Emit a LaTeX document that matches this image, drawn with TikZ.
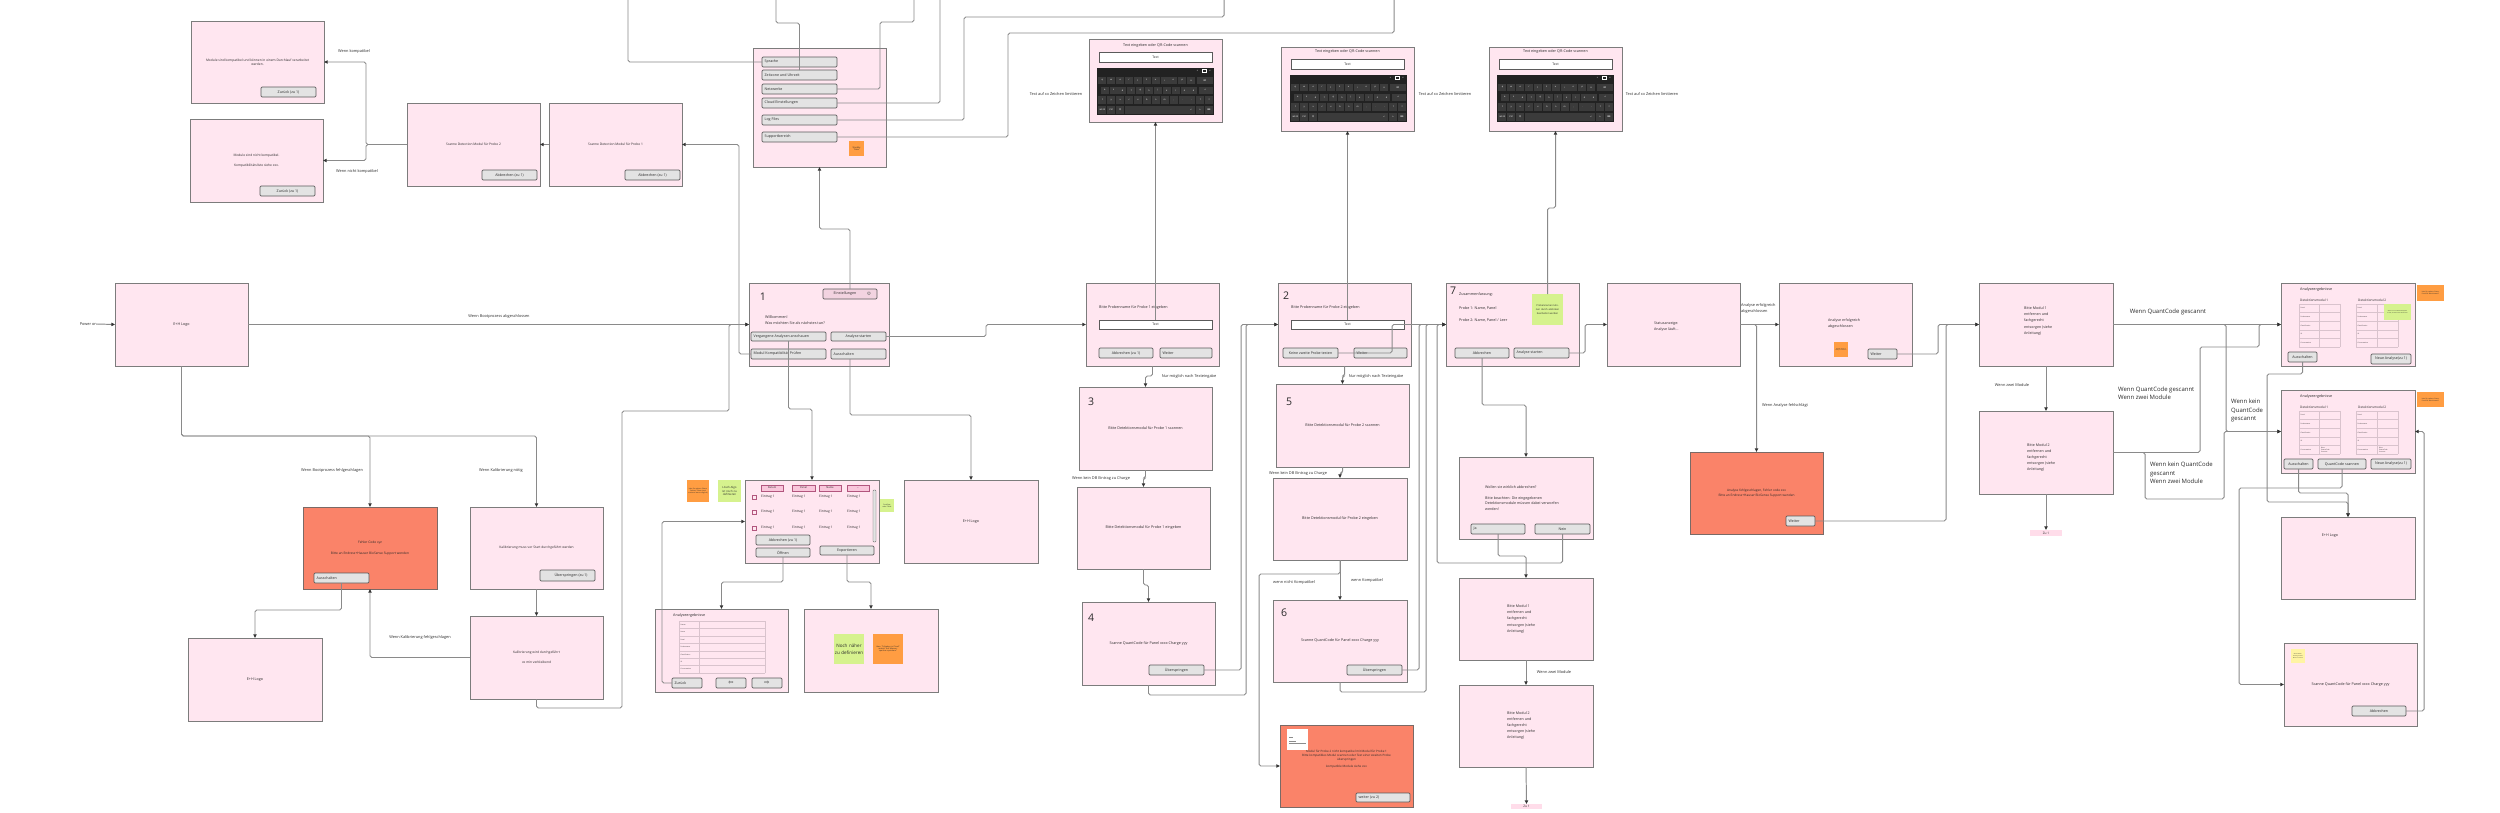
\documentclass[tikz,border=0pt]{standalone}
\usepackage{fontspec}
\setmainfont{Open Sans}
\newfontfamily\dejavu{DejaVu Sans}
\usetikzlibrary{arrows.meta,calc}
\definecolor{pinkbg}{HTML}{FFE6F0}
\definecolor{bord}{HTML}{7C7C7C}
\definecolor{salmon}{HTML}{FA8369}
\definecolor{errbord}{HTML}{7A6A66}
\definecolor{btnc}{HTML}{E3E3E3}
\definecolor{btnbord}{HTML}{5A5A5A}
\definecolor{hbtnc}{HTML}{F2D3E0}
\definecolor{hdrpink}{HTML}{F9C6DB}
\definecolor{hdrbord}{HTML}{B2567E}
\definecolor{orng}{HTML}{FF9D42}
\definecolor{lime}{HTML}{D6F28E}
\definecolor{yel}{HTML}{FFF4A3}
\definecolor{kbdc}{HTML}{222222}
\definecolor{keyc}{HTML}{3B3B3B}
\definecolor{lne}{HTML}{8A8A8A}
\definecolor{txtc}{HTML}{2A2A2A}
\definecolor{tblc}{HTML}{D9C3CD}
\definecolor{zupink}{HTML}{FFDDEA}
\newcommand\fsz[2]{\fontsize{#1}{#2}\selectfont}
\newcommand\rbox[7]{\node[#6,anchor=north west,minimum width={(#4-#2)*0.04cm},minimum height={(#5-#3)*0.04cm}] (#1) at (#2,#3) {#7};}
\newcommand\btn[6]{\rbox{#1}{#2}{#3}{#4}{#5}{btnst}{#6}}
\newcommand\btnl[6]{\rbox{#1}{#2}{#3}{#4}{#5}{btnst}{}\node[btxt,anchor=west] at ($(#1.west)+(2.5,0)$) {#6};}
\newcommand\sticky[9]{\node[anchor=north west,fill=#6,inner sep=0pt,outer sep=0pt,minimum width={(#4-#2)*0.04cm},minimum height={(#5-#3)*0.04cm},text width={(#4-#2)*0.04cm-1.2pt},align=center,font=\fsz{#7}{#8},text=txtc] (#1) at (#2,#3) {#9};}
\newcommand\tbl[7]{%
  \pgfmathsetmacro\rowh{(#5-#2)/#6}%
  \foreach \rr in {0,...,#6} {\draw[tblline] (#1,{#2+\rowh*\rr}) -- (#3,{#2+\rowh*\rr});}
  \draw[tblline] (#1,#2) -- (#1,#5) (#4,#2) -- (#4,#5) (#3,#2) -- (#3,#5);
  \foreach \lab [count=\rr] in {#7} {\node[tiny,anchor=west] at ({#1+1.5},{#2+\rowh*(\rr-0.5)}) {\lab};}
}
\newcommand\resin[3]{\begin{scope}[shift={(#1,#2)}]
  \node[txt,anchor=west,font=\fsz{4.2}{5}] at (19,7) {Analyseergebnisse};
  \node[txt,anchor=west,font=\fsz{3.6}{4}] at (19,17) {Detektionsmodul 1};
  \node[txt,anchor=west,font=\fsz{3.6}{4}] at (77,17) {Detektionsmodul 2};
  \tbl{18}{21}{59}{38}{64}{5}{Panel,Probenname,Classification,ID,Concentration}
  \tbl{75}{21}{117}{96}{64}{5}{Panel,Probenname,Classification,ID,Concentration}
  #3
\end{scope}}
\tikzset{
 scr/.style={draw=bord,fill=pinkbg,line width=1.1pt,inner sep=0pt,outer sep=0pt,align=center,font=\fsz{4.2}{5.2},text=txtc},
 errscr/.style={scr,fill=salmon,draw=errbord},
 btnst/.style={draw=btnbord,fill=btnc,rounded corners=1.3pt,line width=0.8pt,inner sep=0pt,outer sep=0pt,font=\fsz{4.1}{4.5},text=txtc},
 hbtn/.style={btnst,fill=hbtnc},
 btxt/.style={inner sep=0pt,font=\fsz{4.1}{4.5},text=txtc},
 fieldst/.style={draw=btnbord,fill=white,line width=0.8pt,inner sep=0pt,outer sep=0pt,font=\fsz{3.8}{4},text=txtc},
 txt/.style={inner sep=0pt,font=\fsz{4.2}{5.2},text=txtc,align=left},
 lbl/.style={inner sep=0pt,font=\fsz{4.4}{5.4},text=txtc,align=left},
 biglbl/.style={inner sep=0pt,font=\fsz{6.8}{9.6},text=txtc,align=left},
 num/.style={inner sep=0pt,font=\fsz{12}{12},text=txtc},
 tiny/.style={inner sep=0pt,font=\fsz{1.8}{2.1},text=txtc},
 tblline/.style={draw=tblc,line width=0.35pt},
 hdr/.style={draw=hdrbord,fill=hdrpink,line width=0.7pt,inner sep=0pt,outer sep=0pt,font=\fsz{3}{3.2},text=txtc},
 zul/.style={fill=zupink,inner sep=0pt,outer sep=0pt,font=\fsz{3.6}{4},text=txtc},
 conn/.style={draw=lne,line width=1.1pt,rounded corners=2pt,-{Triangle[length=4.2pt,width=3.8pt,color=black!80]}},
 plainln/.style={draw=lne,line width=1.1pt,rounded corners=2pt},
 kl/.style={inner sep=0pt,font=\dejavu\fsz{2.4}{2.6},text=white},
 kbdpic/.pic={
  \fill[kbdc] (0,0) rectangle (117,47);
  \node[kl] at (100.5,2.8) {+};
  \draw[white,line width=0.25pt] (105.3,1.6) rectangle (108.7,4.0);
  \node[kl] at (113,2.8) {×};
  \foreach \kk [count=\ii from 0] in {q,w,e,r,t,z,u,i,o,p,ü}
    {\fill[keyc] ({1.4+8.87*\ii},8.5) rectangle ++(8,7.6);
     \node[kl] at ({5.4+8.87*\ii},12.3) {\kk};}
  \fill[keyc] (99.5,8.5) rectangle (116,16.1);
  \node[kl] at (107.7,12.3) {⌫};
  \foreach \kk [count=\ii from 0] in {a,s,d,f,g,h,j,k,l,ö,ä}
    {\fill[keyc] ({3.7+8.87*\ii},18.5) rectangle ++(8,7.6);
     \node[kl] at ({7.7+8.87*\ii},22.3) {\kk};}
  \fill[keyc] (101.5,18.5) rectangle (116,26.1);
  \node[kl] at (108.4,22.3) {↵};
  \foreach \kk [count=\ii from 0] in {⇧,y,x,c,v,b,n,m,{,},.,-,?,⇧}
    {\fill[keyc] ({1.4+8.9*\ii},28.2) rectangle ++(8,7.6);
     \node[kl] at ({5.4+8.9*\ii},32) {\kk};}
  \foreach \kk/\xx in {\&123/5.4,Ctrl/14.3,☺/23.1,</94.1,>/103,⌨/111.9}
    {\fill[keyc] ({\xx-4},38.2) rectangle ++(8,7.6);
     \node[kl] at (\xx,42) {\kk};}
  \fill[keyc] (28,38.2) rectangle (89.5,45.8);
 }
}
\begin{document}
\begin{tikzpicture}[x=0.04cm,y=-0.04cm]
\fill[white] (0,0) rectangle (2500,812);
\useasboundingbox (0,0) rectangle (2500,812);

% ---------- compatibility branch ----------
\rbox{compOK}{191}{21}{324}{103}{scr,font=\fsz{3.7}{4.6}}{Module sind kompatibel und können in einem Durchlauf verarbeitet\\werden.}
\btn{compOKb}{261}{87}{316}{97}{Zurück (zu 1)}
\rbox{compNO}{190}{119}{323}{202}{scr,font=\fsz{3.7}{4.6}}{Module sind nicht kompatibel.\\[7.5pt]Kompatibilitätsliste siehe xxx.}
\btn{compNOb}{260}{186}{315}{196}{Zurück (zu 1)}
\rbox{p2scan}{407}{103}{540}{186}{scr,font=\fsz{3.7}{4.6}}{Scanne Detection Modul für Probe 2}
\btn{p2b}{482}{170}{537}{180}{Abbrechen (zu 1)}
\rbox{p1scan}{549}{103}{682}{186}{scr,font=\fsz{3.7}{4.6}}{Scanne Detection Modul für Probe 1}
\btn{p1b}{625}{170}{680}{180}{Abbrechen (zu 1)}
\node[lbl] at (354,51) {Wenn kompatibel};
\node[lbl] at (357,171) {Wenn nicht kompatibel};

% ---------- settings ----------
\rbox{settings}{753}{48}{886}{167}{scr}{}
\btnl{spr}{762}{57}{837}{67}{Sprache}
\btnl{zeit}{762}{70}{837}{80}{Zeitzone und Uhrzeit}
\btnl{netz}{762}{84}{837}{94}{Netzwerke}
\btnl{cloud}{762}{98}{837}{108}{Cloud Einstellungen}
\btnl{logf}{762}{115}{837}{125}{Log Files}
\btnl{supp}{762}{132}{837}{142}{Supportbereich}
\sticky{standby}{849}{141}{864}{156}{orng}{2.4}{2.8}{Standby Timer}

% ---------- start ----------
\rbox{logo1}{115}{283}{248}{366}{scr}{E+H Logo}
\node[lbl,anchor=east] (pwr) at (97,324) {Power on};
\node[lbl] at (499,316) {Wenn Bootprozess abgeschlossen};
\node[lbl] at (332,470) {Wenn Bootprozess fehlgeschlagen};
\node[lbl] at (501,470) {Wenn Kalibrierung nötig};
\node[lbl] at (420,637) {Wenn Kalibrierung fehlgeschlagen};

% ---------- main menu 1 ----------
\rbox{menu1}{749}{283}{889}{366}{scr}{}
\node[num] at (763,297) {1};
\rbox{einst}{823}{289}{877}{299}{hbtn}{}
\node[btxt] at (845,294) {Einstellungen};
\node[inner sep=0pt,font=\dejavu\fsz{5.5}{5.5},text=black!55] at (869,294) {⚙};
\node[txt,anchor=west] at (765,317) {Willkommen!};
\node[txt,anchor=west] at (765,323) {Was möchten Sie als nächstes tun?};
\btnl{vergbtn}{751}{332}{826}{341}{Vergangene Analysen anschauen}
\btnl{modbtn}{751}{349}{826}{359}{Modul Kompatibilität Prüfen}
\btn{anabtn}{831}{332}{886}{341}{Analyse starten}
\btnl{ausbtn}{831}{349}{886}{359}{Ausschalten}

% ---------- error / calibration ----------
\rbox{errcode}{303}{507}{437}{589}{errscr,font=\fsz{3.7}{4.6}}{Fehler Code xyz\\[7.5pt]Bitte an Endress+Hauser BioSense Support wenden}
\btnl{errbtn}{314}{573}{369}{583}{Ausschalten}
\rbox{logo2}{188}{638}{322}{721}{scr}{E+H Logo}
\rbox{kalmuss}{470}{507}{603}{589}{scr,font=\fsz{3.7}{4.6}}{Kalibrierung muss vor Start durchgeführt werden}
\btn{kalb}{540}{570}{595}{581}{\hspace{8pt}Überspringen (zu 1)}
\rbox{kalwird}{470}{616}{603}{699}{scr,font=\fsz{3.7}{4.6}}{Kalibrierung wird durchgeführt\\[6.5pt]xx min verbleibend}

% ---------- past analyses ----------
\rbox{list}{745}{480}{879}{563}{scr}{}
\rbox{hd1}{761}{485}{783}{491}{hdr}{Datum}
\rbox{hd2}{792}{485}{815}{491}{hdr}{Panel}
\rbox{hd3}{819}{485}{841}{491}{hdr}{Name}
\rbox{hd4}{847}{485}{869}{491}{hdr}{...}
\foreach \yy in {497,512,528} {
  \draw[hdrbord,line width=0.6pt] (752,{\yy-2}) rectangle ++(4,4);
  \foreach \xx in {761,792,819,847} {\node[txt,anchor=west,font=\fsz{3.7}{4}] at (\xx,\yy) {Eintrag 1};}
}
\draw[fill=btnc,draw=btnbord,rounded corners=1pt,line width=0.5pt] (873,490) rectangle (876,542);
\btn{lab}{756}{535}{810}{545}{Abbrechen (zu 1)}
\btn{lopen}{756}{548}{810}{557}{Öffnen}
\btn{lexp}{820}{546}{874}{555}{Exportieren}
\sticky{stL1}{687}{480}{709}{502}{orng}{1.9}{2.4}{Idee für spätere Phase: Suchen, Filtern (und sortieren wenn möglich)}
\sticky{stL2}{718}{480}{741}{502}{lime}{3.2}{3.8}{Lösch-Algo ist noch zu definieren}
\sticky{stL3}{880}{499}{894}{512}{lime}{2}{2.4}{Scrollbar oder Pfeile}
\rbox{past}{655}{609}{788}{692}{scr}{}
\node[txt,anchor=west,font=\fsz{4.2}{5}] at (673,616) {Analyseergebnisse};
\tbl{679}{621}{765}{699}{673}{7}{Datum,Name,Panel,Probenname,Classification,ID,Concentration}
\btnl{pz}{672}{678}{702}{688}{Zurück}
\btn{pl}{716}{678}{746}{688}{\dejavu\fsz{7}{7}⇦}
\btn{pr}{752}{678}{782}{688}{\dejavu\fsz{7}{7}⇨}
\rbox{export}{804}{609}{938}{692}{scr}{}
\sticky{stE1}{834}{634}{864}{664}{lime}{5.2}{7.8}{Noch näher zu definieren}
\sticky{stE2}{873}{634}{903}{664}{orng}{2.2}{2.8}{Idee: "Schieben in Cloud" anstatt "Auf Massenspeicher speichern"}
\rbox{logoM}{904}{480}{1038}{563}{scr}{E+H Logo}

% ---------- probe 1 ----------
\rbox{kbd1}{1089}{39}{1222}{122}{scr}{}
\node[txt] at (1155.5,46) {Text eingeben oder QR-Code scannen};
\rbox{kf1}{1099}{52}{1212}{62}{fieldst}{Text}
\pic at (1097,68) {kbdpic};
\node[lbl] at (1056,94) {Text auf xx Zeichen limitieren};
\rbox{name1}{1086}{283}{1219}{366}{scr}{}
\node[txt,anchor=west] at (1099,308) {Bitte Probenname für Probe 1 eingeben};
\rbox{f1}{1099}{320}{1212}{329}{fieldst}{Text}
\btn{ab1}{1099}{348}{1153}{358}{Abbrechen (zu 1)}
\btnl{we1}{1160}{348}{1212}{358}{Weiter}
\node[lbl] at (1189,376) {Nur möglich nach Texteingabe};
\rbox{box3}{1079}{387}{1212}{470}{scr}{Bitte Detektionsmodul für Probe 1 scannen}
\node[num] at (1091,402) {3};
\node[lbl] at (1101,478) {Wenn kein DB Eintrag zu Charge};
\rbox{det1}{1077}{487}{1210}{569}{scr}{Bitte Detektionsmodul für Probe 1 eingeben}
\rbox{box4}{1082}{602}{1215}{685}{scr}{Scanne QuantCode für Panel xxxx Charge yyy}
\node[num] at (1091,618) {4};
\btn{ub4}{1149}{665}{1204}{675}{Überspringen}

% ---------- probe 2 ----------
\rbox{kbd2}{1281}{47}{1414}{131}{scr}{}
\node[txt] at (1347.5,52) {Text eingeben oder QR-Code scannen};
\rbox{kf2}{1291}{59}{1404}{69}{fieldst}{Text}
\pic at (1290,75) {kbdpic};
\node[lbl] at (1445,94) {Text auf xx Zeichen limitieren};
\rbox{box2}{1278}{283}{1411}{366}{scr}{}
\node[num] at (1286,296) {2};
\node[txt,anchor=west] at (1291,308) {Bitte Probenname für Probe 2 eingeben};
\rbox{f2}{1291}{320}{1404}{329}{fieldst}{Text}
\btn{kz}{1283}{348}{1338}{358}{Keine zweite Probe testen}
\btnl{we2}{1354}{348}{1407}{358}{Weiter}
\node[lbl] at (1376,376) {Nur möglich nach Texteingabe};
\rbox{box5}{1276}{384}{1409}{467}{scr}{Bitte Detektionsmodul für Probe 2 scannen}
\node[num] at (1289,402) {5};
\node[lbl] at (1298,473) {Wenn kein DB Eintrag zu Charge};
\rbox{det2}{1273}{478}{1407}{560}{scr}{Bitte Detektionsmodul für Probe 2 eingeben}
\node[lbl] at (1294,582) {wenn nicht Kompatibel};
\node[lbl] at (1367,580) {wenn Kompatibel};
\rbox{box6}{1273}{600}{1407}{682}{scr}{Scanne QuantCode für Panel xxxx Charge yyy}
\node[num] at (1284,613) {6};
\btn{ub6}{1347}{665}{1402}{675}{Überspringen}
\rbox{incompat}{1280}{725}{1413}{807}{errscr,font=\fsz{3.4}{4.4}}{\\[2pt]Modul für Probe 2 nicht kompatibel mit Modul für Probe 1\\Bitte kompatibles Modul scannen oder Test einer zweiten Probe\\überspringen\\[4pt]kompatible Module siehe xxx\\[16pt]}
\fill[white] (1287,729) rectangle (1308,750);
\draw[black!45,line width=0.3pt] (1289,737) -- (1293,737) (1289,741) -- (1296,741) (1289,743) -- (1306,743);
\btnl{incb}{1356}{793}{1410}{802}{weiter (zu 2)}

% ---------- summary / abort ----------
\rbox{kbd3}{1489}{47}{1622}{131}{scr}{}
\node[txt] at (1555.5,52) {Text eingeben oder QR-Code scannen};
\rbox{kf3}{1499}{59}{1612}{69}{fieldst}{Text}
\pic at (1497,75) {kbdpic};
\node[lbl] at (1652,94) {Text auf xx Zeichen limitieren};
\rbox{box7}{1446}{283}{1579}{366}{scr}{}
\node[num] at (1453,291) {7};
\node[txt,anchor=west] at (1459,295) {Zusammenfassung:};
\node[txt,anchor=west] at (1459,308) {Probe 1: Name, Panel};
\node[txt,anchor=west] at (1459,320) {Probe 2: Name, Panel / Leer};
\sticky{st7}{1532}{294}{1563}{325}{lime}{2.8}{4.6}{Probennamen können durch anklicken bearbeitet werden}
\btn{ab7}{1455}{348}{1509}{358}{Abbrechen}
\btnl{as7}{1514}{348}{1569}{358}{Analyse starten}
\rbox{abort}{1459}{457}{1593}{539}{scr}{}
\node[txt,anchor=north west,font=\fsz{4.1}{6.6}] at (1485,486) {Wollen sie wirklich abbrechen?\\[5pt]Bitte beachten: Die eingegebenen\\Detektionsmodule müssen dabei verworfen\\werden!};
\btnl{ja}{1471}{524}{1525}{534}{Ja}
\btn{nein}{1535}{524}{1590}{534}{Nein}
\rbox{mod1M}{1459}{578}{1593}{660}{scr}{}
\node[txt,anchor=west,font=\fsz{4.1}{7}] at (1507,619) {Bitte Modul 1\\entfernen und\\fachgerecht\\entsorgen (siehe\\Anleitung)};
\node[lbl] at (1554,672) {Wenn zwei Module};
\rbox{mod2M}{1459}{685}{1593}{767}{scr}{}
\node[txt,anchor=west,font=\fsz{4.1}{7}] at (1507,725.5) {Bitte Modul 2\\entfernen und\\fachgerecht\\entsorgen (siehe\\Anleitung)};
\rbox{zu1M}{1511}{804}{1542}{809}{zul}{Zu 1}

% ---------- analysis ----------
\rbox{status}{1607}{283}{1740}{366}{scr}{}
\node[txt,anchor=west,font=\fsz{4.1}{6.8}] at (1654,327) {Statusanzeige:\\Analyse läuft...};
\node[lbl,anchor=west,font=\fsz{4.4}{6.8}] at (1741,308) {Analyse erfolgreich\\abgeschlossen};
\node[lbl,anchor=west] at (1762,405) {Wenn Analyse fehlschlägt};
\rbox{success}{1779}{283}{1912}{366}{scr}{}
\node[txt,anchor=west,font=\fsz{4.1}{6.8}] at (1828,324) {Analyse erfolgreich\\abgeschlossen};
\sticky{stS}{1834}{342}{1848}{357}{orng}{1.5}{1.9}{Header leiste in Analyse einbauen}
\btnl{sw}{1868}{349}{1897}{359}{Weiter}
\rbox{failbox}{1690}{452}{1823}{534}{errscr,font=\fsz{3.6}{5.6}}{Analyse fehlgeschlagen, Fehler code xxx\\Bitte an Endress+Hauser BioSense Support wenden}
\btnl{fw}{1786}{516}{1815}{526}{Weiter}
\rbox{mod1R}{1979}{283}{2113}{366}{scr}{}
\node[txt,anchor=west,font=\fsz{4.1}{7}] at (2024,321) {Bitte Modul 1\\entfernen und\\fachgerecht\\entsorgen (siehe\\Anleitung)};
\node[lbl] at (2012,385) {Wenn zwei Module};
\rbox{mod2R}{1979}{411}{2113}{494}{scr}{}
\node[txt,anchor=west,font=\fsz{4.1}{7}] at (2027,457.5) {Bitte Modul 2\\entfernen und\\fachgerecht\\entsorgen (siehe\\Anleitung)};
\rbox{zu1R}{2030}{530}{2062}{536}{zul}{Zu 1}

% ---------- results ----------
\node[biglbl] at (2168,312) {Wenn QuantCode gescannt};
\node[biglbl,anchor=west] at (2118,393.5) {Wenn QuantCode gescannt\\Wenn zwei Module};
\node[biglbl,anchor=north west] at (2231,399) {Wenn kein\\QuantCode\\gescannt};
\node[biglbl,anchor=north west] at (2150,462) {Wenn kein QuantCode\\gescannt\\Wenn zwei Module};
\rbox{res1}{2281}{283}{2415}{366}{scr}{}
\resin{2281}{283}{}
\sticky{stR1}{2384}{304}{2411}{320}{lime}{1.5}{1.9}{Wenn nur ein Modul analysiert wurde, erscheint das zweite leer}
\btn{ra1}{2288}{352}{2317}{362}{Ausschalten}
\btn{rn1}{2371}{354}{2411}{364}{Neue Analyse(zu 1)}
\sticky{stR2}{2417}{285}{2444}{301}{orng}{1.8}{2.3}{Idee für spätere Phase: Pass/Fail Warnhinweis?}
\rbox{res2}{2281}{390}{2415}{473}{scr}{}
\resin{2281}{390}{\node[tiny,align=left,anchor=west] at (40,60) {Bitte\\QuantCode\\scannen}; \node[tiny,align=left,anchor=west] at (98,60) {Bitte\\QuantCode\\scannen};}
\btn{ra2}{2284}{459}{2313}{469}{Ausschalten}
\btn{rq2}{2318}{459}{2366}{469}{QuantCode scannen}
\btn{rn2}{2371}{459}{2411}{469}{Neue Analyse(zu 1)}
\sticky{stR3}{2417}{392}{2444}{407}{orng}{1.8}{2.3}{Idee für spätere Phase: Pass/Fail Warnhinweis?}
\rbox{logo3}{2281}{517}{2415}{599}{scr}{}
\node[txt] at (2330,536) {E+H Logo};
\rbox{scanQ}{2284}{643}{2417}{726}{scr}{Scanne QuantCode für Panel xxxx Charge yyy}
\sticky{stQ}{2291}{649}{2305}{663}{yel}{1.4}{1.8}{Wenn Modul 1 bereits gescannt: Modul 2 scannen}
\btn{sqa}{2352}{706}{2406}{716}{Abbrechen}

% ================= connectors =================
\draw[conn] (pwr.east) -- (logo1.west);
\draw[conn] (logo1.east) -- (menu1.west);
\draw[conn] (logo1.south) |- (370,436) -- (errcode.north);
\draw[conn] (logo1.south) |- (536.5,436) -- (kalmuss.north);
\draw[conn] (errbtn.south) |- (255,610) -- (logo2.north);
\draw[conn] (kalmuss.south) -- (kalwird.north);
\draw[conn] (kalwird.west) -| (errcode.south);
\draw[conn] (kalwird.south) |- (622,708) |- (729,411) |- (menu1.west);
\draw[conn] (vergbtn.south) |- (812,409) -- (list.north);
\draw[conn] (modbtn.west) -- (739,354) |- (p1scan.east);
\draw[conn] (anabtn.east) -- (986,336.5) |- (name1.west);
\draw[conn] (ausbtn.south -| einst.north) |- (971,415) -- (logoM.north);
\draw[conn] (einst.north) |- (819.5,229) -- (settings.south);
\draw[conn] (p2scan.west) -- (366,144.5) |- (compOK.east);
\draw[conn] (p2scan.west) -- (366,144.5) |- (compNO.east);
\draw[conn] (p1scan.west) -- (p2scan.east);
\coordinate (t1) at (628,0);
\coordinate (t2) at (776,0);
\coordinate (t3) at (914,0);
\coordinate (t4) at (940,0);
\coordinate (t5) at (1224,0);
\coordinate (t6) at (1394,0);
\draw[plainln] (spr.west) -- (628,62) -- (t1);
\draw[plainln] (zeit.north) -- (799.5,23) -- (776,23) -- (t2);
\draw[plainln] (netz.east) -- (880,89) -- (880,22) -- (914,22) -- (t3);
\draw[plainln] (cloud.east) -- (940,103) -- (t4);
\draw[plainln] (logf.east) -- (964,120) -- (964,17) -- (1224,17) -- (t5);
\draw[plainln] (supp.east) -- (1008,137) -- (1008,33) -- (1394,33) -- (t6);
\draw[conn] (f1.north) -- (kbd1.south);
\draw[conn] (name1.south) -- (1152.5,376) -| (box3.north);
\draw[conn] (box3.south) -- (1145.5,478) -| (det1.north);
\draw[conn] (det1.south) -- (1143.5,585) -| (box4.north);
\draw[conn] (ub4.east) -- (1241,670) |- (box2.west);
\draw[conn] (box4.south) |- (1246,695) |- (box2.west);
\draw[conn] (f2.north) -- (kbd2.south);
\draw[conn] (box2.south) -- (1344.5,376) -| (box5.north);
\draw[conn] (kz.east) -- (1392,353) |- (box7.west);
\draw[conn] (box5.south) -- (1342.5,473) -| (det2.north);
\draw[conn] (det2.south) -- (box6.north);
\draw[conn] (det2.south) |- (1259,574) |- (incompat.west);
\draw[conn] (ub6.east) -- (1419,670) |- (box7.west);
\draw[conn] (box6.south) |- (1426,692) |- (box7.west);
\draw[conn] (nein.south) |- (1437,563) |- (box7.west);
\draw[conn] (ja.south) |- (1526,556) -- (mod1M.north);
\draw[conn] (ab7.south) |- (1526,405) -- (abort.north);
\draw[conn] (st7.north) |- (1555.5,208) -- (kbd3.south);
\draw[conn] (mod1M.south) -- (mod2M.north);
\draw[conn] (mod2M.south) -- (zu1M.north);
\draw[conn] (as7.east) -- (1585,353) |- (status.west);
\draw[conn] (status.east) -- (success.west);
\draw[conn] (status.east) -| (failbox.north);
\draw[conn] (sw.east) -- (1938,354) |- (mod1R.west);
\draw[conn] (fw.east) -- (1946,521) |- (mod1R.west);
\draw[conn] (mod1R.south) -- (mod2R.north);
\draw[conn] (mod2R.south) -- (zu1R.north);
\draw[conn] (mod1R.east) -- (res1.west);
\draw[conn] (mod1R.east) -- (2226,324.5) |- (res2.west);
\draw[conn] (mod2R.east) -- (2200,452.5) |- (2259,347) |- (res1.west);
\draw[conn] (mod2R.east) -- (2145,452.5) |- (2224,499) |- (res2.west);
\draw[conn] (ra1.south) |- (2267,374) |- (2348,502) -- (logo3.north);
\draw[conn] (ra2.south) |- (2348,493) -- (logo3.north);
\draw[conn] (rq2.south) |- (2239,488) |- (scanQ.west);
\draw[conn] (sqa.east) -- (2424,711) |- (res2.east);
\draw[conn] (pz.west) -- (662,683) |- (list.west);
\draw[conn] (lopen.south) |- (721.5,582) -- (past.north);
\draw[conn] (lexp.south) |- (871,582) -- (export.north);
\end{tikzpicture}
\end{document}
